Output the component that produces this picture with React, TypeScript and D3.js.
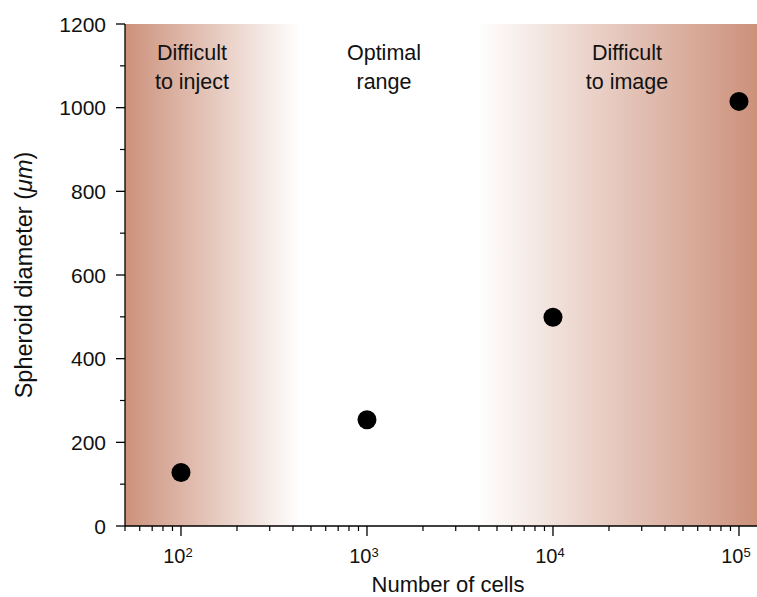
import React, { useEffect, useRef } from 'react';
import * as d3 from 'd3';

const cells = [100, 1000, 10000, 100000];
const diameters = [128, 254, 499, 1015];
const yTicks = [0, 200, 400, 600, 800, 1000, 1200];
const xMajor = [100, 1000, 10000, 100000];
const regionLabels = [
  { x: 192, lines: ['Difficult', 'to inject'] },
  { x: 384, lines: ['Optimal', 'range'] },
  { x: 627, lines: ['Difficult', 'to image'] },
];

const App = () => {
  const ref = useRef<SVGSVGElement>(null);

  useEffect(() => {
    const W = 757, H = 597;
    const m = { top: 24, right: 0, bottom: 71, left: 125 };
    const svg = d3.select(ref.current).attr('width', W).attr('height', H);
    svg.selectAll('*').remove();
    const font = 'Liberation Sans, Arial, sans-serif';

    const x = d3.scaleLog().domain([50, 125000]).range([m.left, W - m.right]);
    const y = d3.scaleLinear().domain([0, 1200]).range([H - m.bottom, m.top]);
    const brown = '#cc917b';

    const defs = svg.append('defs');
    const gl = defs.append('linearGradient').attr('id', 'gl');
    gl.append('stop').attr('offset', 0).attr('stop-color', brown);
    gl.append('stop').attr('offset', 1).attr('stop-color', '#fff');
    const gr = defs.append('linearGradient').attr('id', 'gr');
    gr.append('stop').attr('offset', 0).attr('stop-color', '#fff');
    gr.append('stop').attr('offset', 1).attr('stop-color', brown);

    svg.append('rect')
      .attr('x', x(50)).attr('y', y(1200))
      .attr('width', x(440) - x(50)).attr('height', y(0) - y(1200))
      .attr('fill', 'url(#gl)');
    svg.append('rect')
      .attr('x', x(3900)).attr('y', y(1200))
      .attr('width', x(125000) - x(3900)).attr('height', y(0) - y(1200))
      .attr('fill', 'url(#gr)');

    regionLabels.forEach(r => {
      const t = svg.append('text')
        .attr('x', r.x).attr('y', 60)
        .attr('text-anchor', 'middle')
        .attr('font-family', font).attr('font-size', 21.5).attr('fill', '#111');
      r.lines.forEach((l, i) => {
        t.append('tspan').attr('x', r.x).attr('dy', i === 0 ? 0 : 28.5).text(l);
      });
    });

    // x axis
    const minor = d3.range(2, 6).flatMap(e => d3.range(1, 10).map(k => k * Math.pow(10, e - 1)))
      .filter(v => v >= 50 && v <= 125000 && !xMajor.includes(v));
    const xg = svg.append('g').attr('transform', `translate(0,${y(0)})`);
    xg.append('line').attr('x1', m.left).attr('x2', W).attr('stroke', '#000').attr('stroke-width', 1.3);
    xg.selectAll('.mn').data(minor).enter().append('line')
      .attr('x1', d => x(d)).attr('x2', d => x(d)).attr('y1', 0).attr('y2', 5)
      .attr('stroke', '#000').attr('stroke-width', 1.2);
    xg.selectAll('.mj').data(xMajor).enter().append('line')
      .attr('x1', d => x(d)).attr('x2', d => x(d)).attr('y1', 0).attr('y2', 10)
      .attr('stroke', '#000').attr('stroke-width', 1.3);
    xMajor.forEach(v => {
      const e = String(Math.round(Math.log10(v)));
      const t = xg.append('text').attr('x', x(v) - 3).attr('y', 37)
        .attr('text-anchor', 'middle').attr('font-family', font).attr('font-size', 20).attr('fill', '#111');
      t.append('tspan').text('10');
      t.append('tspan').attr('dy', -6).attr('font-size', 13).text(e);
    });
    svg.append('text').attr('x', 448).attr('y', 592).attr('text-anchor', 'middle')
      .attr('font-family', font).attr('font-size', 22).attr('fill', '#111').text('Number of cells');

    // y axis
    const yg = svg.append('g').attr('transform', `translate(${m.left},0)`);
    yg.append('line').attr('y1', y(0)).attr('y2', y(1200)).attr('stroke', '#000').attr('stroke-width', 1.3);
    yg.selectAll('.mn').data(d3.range(100, 1200, 200)).enter().append('line')
      .attr('x1', -5).attr('x2', 0).attr('y1', d => y(d)).attr('y2', d => y(d))
      .attr('stroke', '#000').attr('stroke-width', 1.2);
    yg.selectAll('.mj').data(yTicks).enter().append('line')
      .attr('x1', -9).attr('x2', 0).attr('y1', d => y(d)).attr('y2', d => y(d))
      .attr('stroke', '#000').attr('stroke-width', 1.3);
    yg.selectAll('.lb').data(yTicks).enter().append('text')
      .attr('x', -19).attr('y', d => y(d) + 7.5)
      .attr('text-anchor', 'end').attr('font-family', font).attr('font-size', 21).attr('fill', '#111')
      .text(d => String(d));
    const yt = svg.append('text')
      .attr('transform', `translate(32,${(y(0) + y(1200)) / 2}) rotate(-90)`)
      .attr('text-anchor', 'middle').attr('font-family', font).attr('font-size', 23.5).attr('fill', '#111');
    yt.append('tspan').text('Spheroid diameter (');
    yt.append('tspan').attr('font-style', 'italic').text('μm');
    yt.append('tspan').text(')');

    svg.selectAll('.pt').data(cells).enter().append('circle')
      .attr('cx', d => x(d)).attr('cy', (d, i) => y(diameters[i])).attr('r', 9.5).attr('fill', '#000');
  }, []);

  return (
    <div style={{ position: 'absolute', left: 0, top: 0 }}>
      <svg ref={ref} style={{ display: 'block' }}></svg>
    </div>
  );
};

export default App;
